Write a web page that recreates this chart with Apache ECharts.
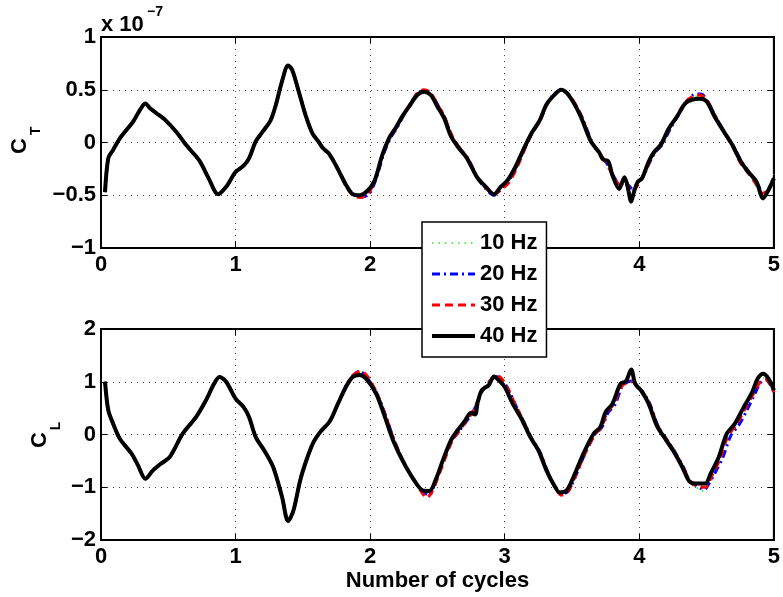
<!DOCTYPE html>
<html>
<head>
<meta charset="utf-8">
<title>C_T / C_L vs number of cycles</title>
<script src="https://cdn.jsdelivr.net/npm/echarts@6/dist/echarts.min.js"></script>
<style>
  html, body { margin: 0; padding: 0; background: #fff; }
  #chart { width: 783px; height: 597px; }
</style>
</head>
<body>
<div id="chart"></div>
<script>
// series names, drawn bottom to top
const seriesNames = ['10 Hz', '20 Hz', '30 Hz', '40 Hz'];
const xTicks = [0, 1, 2, 3, 4, 5];
const ctTicks = [-1, -0.5, 0, 0.5, 1];   // x 1e-7
const clTicks = [-2, -1, 0, 1, 2];

// C_T (x 1e-7): first ~1.8 cycles all four curves overlap
const ctEarly = [[0.03,-0.47],[0.054,-0.15],[0.09,-0.07],[0.14,0.04],[0.19,0.12],[0.24,0.20],[0.29,0.31],[0.33,0.37],[0.36,0.33],[0.41,0.28],[0.48,0.21],[0.56,0.10],[0.63,-0.02],[0.73,-0.17],[0.80,-0.34],[0.87,-0.49],[0.93,-0.42],[1.0,-0.28],[1.06,-0.22],[1.10,-0.15],[1.15,0.01],[1.20,0.10],[1.26,0.21],[1.30,0.36],[1.345,0.58],[1.39,0.73],[1.42,0.69],[1.47,0.48],[1.52,0.26],[1.57,0.09],[1.615,0.01],[1.65,-0.055],[1.69,-0.10],[1.73,-0.18],[1.775,-0.29]];
const ct10Tail = [[1.82,-0.40],[1.87,-0.50],[1.93,-0.53],[1.98,-0.47],[2.03,-0.37],[2.09,-0.12],[2.14,0.04],[2.19,0.14],[2.24,0.25],[2.30,0.37],[2.35,0.46],[2.40,0.50],[2.45,0.46],[2.50,0.34],[2.55,0.23],[2.60,0.06],[2.66,-0.05],[2.72,-0.15],[2.80,-0.34],[2.86,-0.43],[2.92,-0.51],[2.97,-0.43],[3.02,-0.36],[3.08,-0.22],[3.13,-0.08],[3.20,0.09],[3.26,0.22],[3.31,0.36],[3.36,0.45],[3.42,0.51],[3.48,0.44],[3.56,0.26],[3.64,0.01],[3.70,-0.10],[3.76,-0.19],[3.81,-0.32],[3.86,-0.40],[3.91,-0.39],[3.95,-0.42],[3.99,-0.36],[4.03,-0.30],[4.07,-0.18],[4.11,-0.09],[4.16,-0.02],[4.22,0.13],[4.28,0.25],[4.34,0.38],[4.39,0.43],[4.45,0.44],[4.50,0.40],[4.56,0.25],[4.63,0.10],[4.69,-0.02],[4.75,-0.17],[4.81,-0.28],[4.87,-0.38],[4.92,-0.48],[4.96,-0.42],[5.0,-0.30]];
const ct20Tail = [[1.82,-0.40],[1.87,-0.49],[1.93,-0.52],[1.99,-0.49],[2.04,-0.36],[2.10,-0.11],[2.15,0.04],[2.20,0.14],[2.25,0.26],[2.30,0.37],[2.35,0.46],[2.40,0.49],[2.45,0.46],[2.51,0.34],[2.56,0.22],[2.61,0.05],[2.67,-0.06],[2.73,-0.16],[2.80,-0.34],[2.86,-0.44],[2.92,-0.50],[2.98,-0.43],[3.03,-0.36],[3.09,-0.22],[3.14,-0.08],[3.20,0.08],[3.26,0.21],[3.31,0.36],[3.36,0.45],[3.42,0.50],[3.48,0.44],[3.57,0.25],[3.65,0.0],[3.70,-0.10],[3.76,-0.20],[3.81,-0.32],[3.86,-0.40],[3.91,-0.40],[3.95,-0.44],[3.99,-0.38],[4.03,-0.32],[4.08,-0.18],[4.12,-0.09],[4.17,-0.02],[4.23,0.13],[4.29,0.26],[4.35,0.38],[4.40,0.45],[4.46,0.46],[4.51,0.38],[4.57,0.24],[4.64,0.08],[4.70,-0.04],[4.76,-0.18],[4.82,-0.29],[4.88,-0.40],[4.93,-0.50],[4.97,-0.42],[5.0,-0.36]];
const ct30Tail = [[1.82,-0.41],[1.87,-0.50],[1.92,-0.52],[1.97,-0.50],[2.03,-0.38],[2.09,-0.12],[2.14,0.03],[2.19,0.13],[2.24,0.25],[2.30,0.37],[2.35,0.47],[2.40,0.50],[2.45,0.47],[2.50,0.36],[2.55,0.25],[2.61,0.06],[2.67,-0.06],[2.73,-0.16],[2.80,-0.34],[2.86,-0.43],[2.92,-0.49],[2.98,-0.44],[3.03,-0.38],[3.09,-0.24],[3.14,-0.09],[3.20,0.08],[3.26,0.20],[3.31,0.35],[3.36,0.44],[3.42,0.50],[3.48,0.45],[3.56,0.28],[3.64,0.02],[3.70,-0.10],[3.75,-0.18],[3.81,-0.33],[3.86,-0.40],[3.90,-0.38],[3.94,-0.46],[3.98,-0.42],[4.02,-0.34],[4.07,-0.20],[4.11,-0.10],[4.16,-0.03],[4.22,0.12],[4.28,0.25],[4.34,0.38],[4.40,0.44],[4.45,0.45],[4.50,0.41],[4.56,0.26],[4.63,0.10],[4.69,-0.03],[4.75,-0.19],[4.81,-0.29],[4.87,-0.40],[4.91,-0.48],[4.95,-0.46],[5.0,-0.36]];
const ct40Tail = [[1.82,-0.40],[1.87,-0.49],[1.92,-0.50],[1.97,-0.47],[2.03,-0.37],[2.09,-0.12],[2.14,0.04],[2.19,0.14],[2.24,0.25],[2.30,0.36],[2.35,0.45],[2.40,0.48],[2.45,0.45],[2.50,0.34],[2.55,0.23],[2.60,0.06],[2.66,-0.055],[2.72,-0.15],[2.795,-0.33],[2.86,-0.42],[2.92,-0.49],[2.97,-0.42],[3.02,-0.36],[3.08,-0.23],[3.13,-0.09],[3.20,0.09],[3.26,0.21],[3.31,0.36],[3.36,0.44],[3.42,0.50],[3.48,0.44],[3.56,0.26],[3.64,0.01],[3.70,-0.09],[3.73,-0.16],[3.77,-0.18],[3.80,-0.31],[3.85,-0.44],[3.89,-0.33],[3.91,-0.40],[3.94,-0.56],[3.96,-0.47],[3.99,-0.37],[4.02,-0.34],[4.07,-0.18],[4.11,-0.09],[4.16,-0.02],[4.22,0.135],[4.28,0.245],[4.34,0.37],[4.39,0.405],[4.45,0.415],[4.50,0.39],[4.56,0.245],[4.63,0.10],[4.69,-0.02],[4.75,-0.17],[4.81,-0.28],[4.87,-0.37],[4.92,-0.53],[4.96,-0.45],[5.0,-0.34]];

// C_L
const clEarly = [[0.03,1.0],[0.054,0.46],[0.09,0.205],[0.14,-0.08],[0.226,-0.36],[0.275,-0.585],[0.33,-0.84],[0.386,-0.68],[0.447,-0.55],[0.51,-0.43],[0.607,0.015],[0.706,0.33],[0.78,0.65],[0.84,0.96],[0.88,1.09],[0.93,1.0],[1.0,0.68],[1.06,0.52],[1.10,0.33],[1.15,-0.05],[1.22,-0.33],[1.28,-0.62],[1.345,-1.18],[1.39,-1.64],[1.43,-1.44],[1.48,-0.87],[1.53,-0.46],[1.58,-0.14],[1.63,0.05],[1.70,0.25],[1.76,0.58]];
const cl10Tail = [[1.82,0.91],[1.87,1.10],[1.93,1.18],[1.98,1.08],[2.05,0.77],[2.11,0.33],[2.17,-0.11],[2.24,-0.50],[2.32,-0.86],[2.39,-1.08],[2.43,-1.10],[2.48,-0.88],[2.54,-0.50],[2.60,-0.11],[2.65,0.07],[2.70,0.24],[2.76,0.42],[2.80,0.62],[2.84,0.86],[2.89,1.00],[2.93,1.12],[2.97,1.06],[3.01,0.90],[3.07,0.57],[3.13,0.26],[3.19,-0.06],[3.25,-0.31],[3.31,-0.70],[3.37,-0.96],[3.43,-1.12],[3.47,-1.06],[3.52,-0.80],[3.59,-0.39],[3.66,0.01],[3.71,0.14],[3.76,0.43],[3.81,0.59],[3.86,0.92],[3.90,1.00],[3.94,1.02],[3.98,0.90],[4.03,0.76],[4.07,0.57],[4.13,0.16],[4.20,-0.11],[4.25,-0.31],[4.32,-0.63],[4.37,-0.90],[4.42,-0.98],[4.46,-1.08],[4.50,-0.98],[4.54,-0.76],[4.60,-0.44],[4.66,0.0],[4.72,0.19],[4.78,0.47],[4.85,0.80],[4.89,1.03],[4.93,1.08],[4.97,1.0],[5.0,0.82]];
const cl20Tail = [[1.82,0.92],[1.87,1.11],[1.92,1.20],[1.97,1.10],[2.05,0.78],[2.12,0.32],[2.18,-0.12],[2.25,-0.52],[2.33,-0.88],[2.40,-1.10],[2.44,-1.15],[2.48,-0.92],[2.54,-0.52],[2.60,-0.13],[2.66,0.06],[2.71,0.23],[2.76,0.41],[2.80,0.62],[2.84,0.86],[2.89,1.00],[2.93,1.10],[2.97,1.06],[3.02,0.89],[3.08,0.56],[3.14,0.25],[3.20,-0.07],[3.26,-0.32],[3.32,-0.71],[3.37,-0.97],[3.43,-1.12],[3.47,-1.08],[3.52,-0.83],[3.59,-0.40],[3.67,0.0],[3.72,0.13],[3.77,0.42],[3.82,0.57],[3.87,0.90],[3.91,0.99],[3.95,1.02],[3.99,0.91],[4.04,0.76],[4.08,0.57],[4.14,0.16],[4.21,-0.12],[4.26,-0.31],[4.33,-0.63],[4.38,-0.90],[4.43,-0.97],[4.48,-1.05],[4.52,-0.92],[4.56,-0.74],[4.62,-0.44],[4.68,-0.02],[4.74,0.18],[4.80,0.46],[4.86,0.78],[4.90,0.98],[4.94,1.04],[4.98,0.92],[5.0,0.82]];
const cl30Tail = [[1.82,0.92],[1.87,1.12],[1.93,1.20],[1.98,1.10],[2.05,0.78],[2.12,0.32],[2.18,-0.12],[2.25,-0.52],[2.33,-0.88],[2.39,-1.12],[2.42,-1.20],[2.46,-1.08],[2.50,-0.84],[2.55,-0.50],[2.61,-0.12],[2.66,0.06],[2.71,0.24],[2.76,0.42],[2.80,0.64],[2.84,0.86],[2.89,1.02],[2.93,1.12],[2.97,1.08],[3.02,0.88],[3.08,0.56],[3.14,0.25],[3.20,-0.08],[3.26,-0.33],[3.32,-0.72],[3.37,-0.98],[3.42,-1.15],[3.47,-1.08],[3.52,-0.82],[3.59,-0.40],[3.67,0.0],[3.72,0.14],[3.76,0.42],[3.81,0.58],[3.86,0.88],[3.90,0.98],[3.95,1.00],[3.99,0.90],[4.04,0.75],[4.08,0.56],[4.14,0.15],[4.21,-0.12],[4.26,-0.32],[4.33,-0.64],[4.38,-0.90],[4.43,-0.98],[4.49,-1.0],[4.54,-0.78],[4.60,-0.46],[4.66,-0.02],[4.72,0.18],[4.78,0.46],[4.85,0.78],[4.90,1.0],[4.94,1.04],[4.98,0.92],[5.0,0.80]];
const cl40Tail = [[1.82,0.90],[1.87,1.09],[1.92,1.13],[1.97,1.06],[2.045,0.77],[2.11,0.33],[2.17,-0.11],[2.24,-0.49],[2.32,-0.84],[2.39,-1.06],[2.44,-1.07],[2.49,-0.84],[2.54,-0.49],[2.60,-0.11],[2.65,0.08],[2.70,0.24],[2.75,0.41],[2.78,0.38],[2.80,0.62],[2.83,0.84],[2.88,0.93],[2.92,1.10],[2.955,1.03],[3.00,0.90],[3.06,0.58],[3.13,0.27],[3.19,-0.05],[3.25,-0.30],[3.31,-0.68],[3.36,-0.93],[3.41,-1.10],[3.46,-1.06],[3.51,-0.81],[3.58,-0.39],[3.66,0.015],[3.71,0.14],[3.75,0.43],[3.80,0.58],[3.86,0.96],[3.90,1.01],[3.94,1.23],[3.97,0.96],[4.02,0.81],[4.07,0.58],[4.13,0.17],[4.20,-0.11],[4.25,-0.30],[4.32,-0.62],[4.37,-0.88],[4.42,-0.93],[4.49,-0.93],[4.53,-0.74],[4.59,-0.43],[4.65,0.015],[4.71,0.205],[4.77,0.49],[4.84,0.81],[4.88,1.06],[4.92,1.15],[4.96,1.06],[5.0,0.84]];

const ctData = [ct10Tail, ct20Tail, ct30Tail, ct40Tail].map(t => ctEarly.concat(t));
const clData = [cl10Tail, cl20Tail, cl30Tail, cl40Tail].map(t => clEarly.concat(t));

const lineStyles = [
  { color: '#22ee22', width: 1.5, type: [1.5, 5] },
  { color: '#0000ff', width: 3, type: [8, 4, 2, 4] },
  { color: '#ff0000', width: 3, type: [8, 5] },
  { color: '#000000', width: 4, type: 'solid' }
];

const FONT = '"Liberation Sans", Arial, Helvetica, sans-serif';
const minus = v => (v < 0 ? '\u2212' + (-v) : String(v));

const xAxisBase = (gridIndex) => ({
  type: 'value', gridIndex, min: xTicks[0], max: xTicks[xTicks.length - 1], interval: 1,
  axisLine: { show: true, onZero: false, lineStyle: { color: '#000', width: 2 } },
  axisTick: { show: true, inside: true, length: 6, lineStyle: { color: '#000' } },
  axisLabel: { color: '#000', fontFamily: FONT, fontWeight: 'bold', fontSize: 22, margin: 6 },
  splitLine: { show: true, lineStyle: { color: '#444', width: 1, type: [1, 5] } }
});
const yAxisBase = (gridIndex, ticks, interval) => ({
  type: 'value', gridIndex, min: ticks[0], max: ticks[ticks.length - 1], interval,
  axisLine: { show: true, onZero: false, lineStyle: { color: '#000', width: 2 } },
  axisTick: { show: true, inside: true, length: 6, lineStyle: { color: '#000' } },
  axisLabel: { color: '#000', fontFamily: FONT, fontWeight: 'bold', fontSize: 22, margin: 5, formatter: minus },
  splitLine: { show: true, lineStyle: { color: '#444', width: 1, type: [1, 5] } }
});
// MATLAB box: tick marks also on the top and right edges
const mirror = (axis, position) => Object.assign({}, axis, {
  position, axisLabel: { show: false }, splitLine: { show: false }, name: ''
});

const series = [];
seriesNames.forEach((name, i) => {
  series.push({ name, type: 'line', xAxisIndex: 0, yAxisIndex: 0, data: ctData[i],
    showSymbol: false, symbol: 'none', smooth: 0.3, lineStyle: lineStyles[i], itemStyle: { color: lineStyles[i].color } });
  series.push({ name, type: 'line', xAxisIndex: 1, yAxisIndex: 1, data: clData[i],
    showSymbol: false, symbol: 'none', smooth: 0.3, lineStyle: lineStyles[i], itemStyle: { color: lineStyles[i].color } });
});

const xTop = xAxisBase(0), xBottom = xAxisBase(1);
const yTop = yAxisBase(0, ctTicks, 0.5), yBottom = yAxisBase(1, clTicks, 1);

const chart = echarts.init(document.getElementById('chart'));
chart.setOption({
  animation: false,
  backgroundColor: '#fff',
  grid: [
    { left: 101, top: 37, width: 678, height: 211, show: true, borderColor: '#000', borderWidth: 2 },
    { left: 101, top: 329, width: 678, height: 211, show: true, borderColor: '#000', borderWidth: 2 }
  ],
  xAxis: [
    xTop,
    Object.assign({}, xBottom, {
      name: 'Number of cycles', nameLocation: 'middle', nameGap: 30,
      nameTextStyle: { color: '#000', fontFamily: FONT, fontWeight: 'bold', fontSize: 22 }
    }),
    mirror(xTop, 'top'),
    mirror(xBottom, 'top')
  ],
  yAxis: [yTop, yBottom, mirror(yTop, 'right'), mirror(yBottom, 'right')],
  legend: {
    data: seriesNames, orient: 'vertical', left: 422, top: 222,
    padding: [10, 9, 10, 8], itemWidth: 43, itemHeight: 14, itemGap: 9,
    backgroundColor: '#fff', borderColor: '#000', borderWidth: 1.5, borderRadius: 0,
    itemStyle: { opacity: 0 },
    lineStyle: { width: 'inherit' },
    textStyle: { color: '#000', fontFamily: FONT, fontWeight: 'bold', fontSize: 22, lineHeight: 20 },
    z: 10
  },
  graphic: [
    { type: 'text', left: 101, top: 14, style: { text: 'x 10', font: 'bold 22px ' + FONT, fill: '#000' } },
    { type: 'text', left: 147, top: 5, style: { text: '\u22127', font: 'bold 14px ' + FONT, fill: '#000' } },
    { type: 'text', x: 20, y: 146, rotation: Math.PI / 2, style: { text: 'C', font: 'bold 22px ' + FONT, fill: '#000', align: 'center', verticalAlign: 'middle' } },
    { type: 'text', x: 36, y: 131, rotation: Math.PI / 2, style: { text: 'T', font: 'bold 14px ' + FONT, fill: '#000', align: 'center', verticalAlign: 'middle' } },
    { type: 'text', x: 40, y: 440, rotation: Math.PI / 2, style: { text: 'C', font: 'bold 22px ' + FONT, fill: '#000', align: 'center', verticalAlign: 'middle' } },
    { type: 'text', x: 56, y: 426, rotation: Math.PI / 2, style: { text: 'L', font: 'bold 14px ' + FONT, fill: '#000', align: 'center', verticalAlign: 'middle' } }
  ],
  series
});
</script>
</body>
</html>
